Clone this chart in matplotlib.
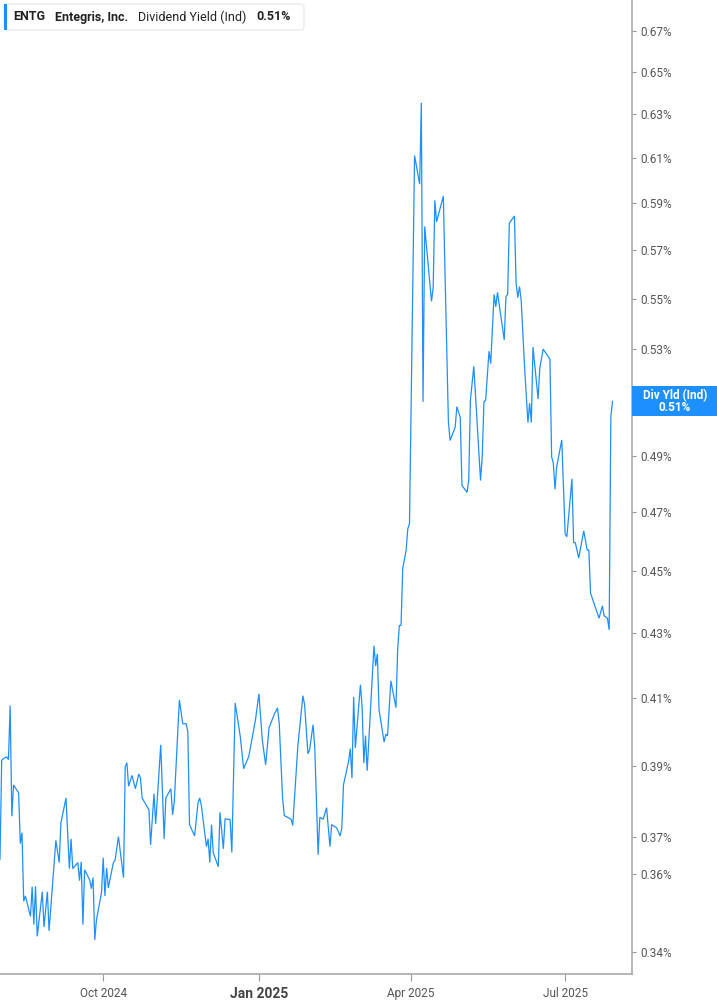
import matplotlib
matplotlib.use('Agg')
import matplotlib.pyplot as plt
import pandas as pd
from matplotlib.patches import FancyBboxPatch, Rectangle
from matplotlib.ticker import NullLocator

plt.rcParams['font.family'] = ['Roboto', 'DejaVu Sans']

dates = [
    '2024-08-01', '2024-08-02', '2024-08-03', '2024-08-05', '2024-08-06', '2024-08-07', '2024-08-08', '2024-08-09',
    '2024-08-10', '2024-08-12', '2024-08-13', '2024-08-14', '2024-08-15', '2024-08-16', '2024-08-19', '2024-08-20',
    '2024-08-21', '2024-08-22', '2024-08-23', '2024-08-26', '2024-08-27', '2024-08-29', '2024-08-30', '2024-09-03',
    '2024-09-05', '2024-09-06', '2024-09-09', '2024-09-11', '2024-09-12', '2024-09-13', '2024-09-16', '2024-09-17',
    '2024-09-18', '2024-09-19', '2024-09-20', '2024-09-23', '2024-09-24', '2024-09-25', '2024-09-26', '2024-09-27',
    '2024-09-30', '2024-10-01', '2024-10-02', '2024-10-03', '2024-10-04', '2024-10-07', '2024-10-08', '2024-10-10',
    '2024-10-13', '2024-10-14', '2024-10-15', '2024-10-16', '2024-10-18', '2024-10-20', '2024-10-22', '2024-10-23',
    '2024-10-24', '2024-10-28', '2024-10-29', '2024-10-31', '2024-11-01', '2024-11-04', '2024-11-06', '2024-11-07',
    '2024-11-10', '2024-11-11', '2024-11-12', '2024-11-15', '2024-11-17', '2024-11-19', '2024-11-20', '2024-11-21',
    '2024-11-24', '2024-11-26', '2024-11-27', '2024-11-28', '2024-12-01', '2024-12-02', '2024-12-03', '2024-12-04',
    '2024-12-05', '2024-12-08', '2024-12-09', '2024-12-11', '2024-12-12', '2024-12-15', '2024-12-16', '2024-12-18',
    '2024-12-21', '2024-12-23', '2024-12-26', '2024-12-30', '2025-01-01', '2025-01-03', '2025-01-05', '2025-01-07',
    '2025-01-10', '2025-01-12', '2025-01-13', '2025-01-15', '2025-01-16', '2025-01-20', '2025-01-21', '2025-01-24',
    '2025-01-27', '2025-01-28', '2025-01-30', '2025-01-31', '2025-02-02', '2025-02-03', '2025-02-05', '2025-02-06',
    '2025-02-08', '2025-02-10', '2025-02-12', '2025-02-13', '2025-02-16', '2025-02-18', '2025-02-19', '2025-02-20',
    '2025-02-23', '2025-02-24', '2025-02-25', '2025-02-26', '2025-02-27', '2025-03-02', '2025-03-03', '2025-03-04',
    '2025-03-05', '2025-03-06', '2025-03-10', '2025-03-11', '2025-03-12', '2025-03-13', '2025-03-16', '2025-03-17',
    '2025-03-18', '2025-03-20', '2025-03-23', '2025-03-24', '2025-03-25', '2025-03-26', '2025-03-27', '2025-03-29',
    '2025-03-30', '2025-03-31', '2025-04-03', '2025-04-06', '2025-04-07', '2025-04-08', '2025-04-09', '2025-04-13',
    '2025-04-14', '2025-04-15', '2025-04-16', '2025-04-20', '2025-04-21', '2025-04-23', '2025-04-24', '2025-04-27',
    '2025-04-28', '2025-04-30', '2025-05-01', '2025-05-04', '2025-05-05', '2025-05-06', '2025-05-08', '2025-05-12',
    '2025-05-13', '2025-05-14', '2025-05-15', '2025-05-17', '2025-05-18', '2025-05-20', '2025-05-21', '2025-05-22',
    '2025-05-26', '2025-05-27', '2025-05-28', '2025-05-29', '2025-06-01', '2025-06-02', '2025-06-03', '2025-06-04',
    '2025-06-05', '2025-06-07', '2025-06-09', '2025-06-10', '2025-06-11', '2025-06-12', '2025-06-15', '2025-06-16',
    '2025-06-18', '2025-06-22', '2025-06-23', '2025-06-24', '2025-06-25', '2025-06-26', '2025-06-29', '2025-07-01',
    '2025-07-02', '2025-07-05', '2025-07-06', '2025-07-07', '2025-07-09', '2025-07-12', '2025-07-14', '2025-07-15',
    '2025-07-16', '2025-07-18', '2025-07-21', '2025-07-23', '2025-07-24', '2025-07-26', '2025-07-27', '2025-07-28',
    '2025-07-29',
]
yld = [
    0.3640, 0.3915, 0.3920, 0.3925, 0.3917, 0.4076, 0.3757, 0.3845,
    0.3837, 0.3823, 0.3682, 0.3712, 0.3529, 0.3543, 0.3490, 0.3567,
    0.3469, 0.3568, 0.3439, 0.3554, 0.3463, 0.3554, 0.3453, 0.3691,
    0.3631, 0.3739, 0.3808, 0.3615, 0.3695, 0.3615, 0.3631, 0.3583,
    0.3633, 0.3469, 0.3612, 0.3585, 0.3562, 0.3591, 0.3430, 0.3481,
    0.3552, 0.3644, 0.3543, 0.3617, 0.3564, 0.3631, 0.3637, 0.3701,
    0.3591, 0.3897, 0.3908, 0.3841, 0.3872, 0.3834, 0.3876, 0.3865,
    0.3808, 0.3775, 0.3679, 0.3820, 0.3736, 0.3960, 0.3695, 0.3808,
    0.3834, 0.3761, 0.3798, 0.4093, 0.4022, 0.4022, 0.3999, 0.3734,
    0.3703, 0.3794, 0.3808, 0.3787, 0.3674, 0.3695, 0.3631, 0.3734,
    0.3658, 0.3620, 0.3768, 0.3668, 0.3750, 0.3748, 0.3658, 0.4084,
    0.3984, 0.3891, 0.3926, 0.4034, 0.4112, 0.3975, 0.3902, 0.4010,
    0.4049, 0.4069, 0.4024, 0.3808, 0.3759, 0.3749, 0.3732, 0.3955,
    0.4106, 0.4079, 0.3934, 0.3946, 0.4019, 0.3955, 0.3652, 0.3754,
    0.3749, 0.3781, 0.3674, 0.3734, 0.3725, 0.3703, 0.3725, 0.3845,
    0.3912, 0.3949, 0.3864, 0.4102, 0.3951, 0.4139, 0.4073, 0.3907,
    0.3987, 0.3885, 0.4260, 0.4197, 0.4234, 0.4064, 0.3968, 0.3991,
    0.3986, 0.4151, 0.4070, 0.4247, 0.4324, 0.4324, 0.4509, 0.4570,
    0.4643, 0.4660, 0.6112, 0.5985, 0.6354, 0.5098, 0.5801, 0.5490,
    0.5545, 0.5914, 0.5821, 0.5932, 0.5603, 0.5024, 0.4955, 0.5004,
    0.5080, 0.5040, 0.4794, 0.4769, 0.4811, 0.5104, 0.5233, 0.4811,
    0.4900, 0.5098, 0.5104, 0.5292, 0.5244, 0.5518, 0.5468, 0.5526,
    0.5336, 0.5509, 0.5518, 0.5815, 0.5846, 0.5564, 0.5505, 0.5550,
    0.5495, 0.5232, 0.5021, 0.5093, 0.5021, 0.5308, 0.5109, 0.5226,
    0.5300, 0.5261, 0.4896, 0.4873, 0.4780, 0.4861, 0.4957, 0.4625,
    0.4616, 0.4817, 0.4596, 0.4596, 0.4544, 0.4636, 0.4571, 0.4571,
    0.4428, 0.4396, 0.4347, 0.4387, 0.4355, 0.4347, 0.4310, 0.5043,
    0.5100,
]
# 0.51% sits behind the last-value tag in the original, so it is left out
ytick_vals = [0.34, 0.36, 0.37, 0.39, 0.41, 0.43, 0.45, 0.47, 0.49,
              0.53, 0.55, 0.57, 0.59, 0.61, 0.63, 0.65, 0.67]
xtick_dates = ['2024-10-01', '2025-01-01', '2025-04-01', '2025-07-01']
xtick_labels = ['Oct 2024', 'Jan 2025', 'Apr 2025', 'Jul 2025']

BLUE = '#1e8fff'
W, H = 717, 1005
fig = plt.figure(figsize=(W / 100, H / 100), dpi=100)
ax = fig.add_axes([0, 31 / H, 632 / W, 1 - 31 / H])

ax.plot(pd.to_datetime(dates), yld, color=BLUE, lw=0.9, solid_joinstyle='miter')
ax.set_yscale('log')
ax.set_ylim(0.3345, 0.6854)
x0 = pd.Timestamp('2024-08-01')
ax.set_xlim(x0, x0 + pd.Timedelta(days=373.5))

ax.yaxis.tick_right()
ax.yaxis.set_minor_locator(NullLocator())
ax.set_yticks(ytick_vals)
ax.set_yticklabels(['%.2f%%' % v for v in ytick_vals])
ax.tick_params(axis='y', length=3, width=0.8, color='#999999', pad=3,
               labelsize=8.5, labelcolor='#555555')

ax.set_xticks(pd.to_datetime(xtick_dates))
ax.set_xticklabels(xtick_labels)
ax.xaxis.set_minor_locator(NullLocator())
ax.tick_params(axis='x', length=5, width=0.8, color='#999999', pad=4,
               labelsize=8.5, labelcolor='#555555')
for t in ax.get_xticklabels():
    if t.get_text().startswith('Jan'):
        t.set_fontweight('bold'); t.set_fontsize(10); t.set_color('#444444')

for s in ('top', 'left'):
    ax.spines[s].set_visible(False)
for s in ('right', 'bottom'):
    ax.spines[s].set_color('#aaaaaa'); ax.spines[s].set_linewidth(1.2)

# legend chip, top left
def fx(x): return x / W
def fy(y): return 1 - y / H
fig.patches.append(FancyBboxPatch((fx(4), fy(30)), fx(300), 26 / H,
                                  boxstyle='round,pad=0,rounding_size=0.004',
                                  transform=fig.transFigure, fc='white', ec='#e6e6e6', lw=0.8))
fig.patches.append(Rectangle((fx(4), fy(30)), fx(3), 26 / H, transform=fig.transFigure,
                             fc=BLUE, ec='none'))
for xp, txt, wt in [(13, 'ENTG', 'bold'), (55, 'Entegris, Inc.', 'bold'),
                    (138, 'Dividend Yield (Ind)', 'normal'), (256, '%.2f%%' % yld[-1], 'bold')]:
    fig.text(fx(xp), fy(17), txt, fontsize=9, fontweight=wt, color='#222222', va='center')

# last value tag on the right axis
fig.canvas.draw()
ypix = ax.transData.transform((ax.get_xlim()[0], yld[-1]))[1]
yc = ypix / fig.bbox.height
fig.patches.append(Rectangle((632 / W, yc - 15 / H), 85 / W, 30 / H, transform=fig.transFigure,
                             fc=BLUE, ec='none', zorder=5))
fig.text(675 / W, yc + 6 / H, 'Div Yld (Ind)', color='white', fontsize=8.5, fontweight='bold',
         ha='center', va='center', zorder=6)
fig.text(675 / W, yc - 6 / H, '%.2f%%' % yld[-1], color='white', fontsize=8.5, fontweight='bold',
         ha='center', va='center', zorder=6)

fig.savefig('out.png', dpi=100)
